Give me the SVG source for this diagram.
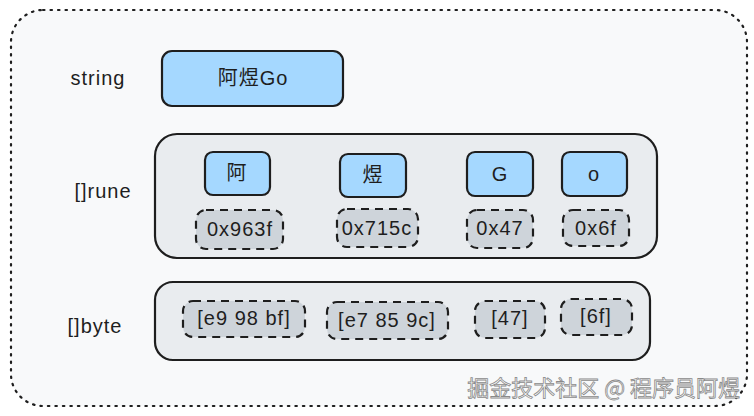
<svg xmlns="http://www.w3.org/2000/svg" width="754" height="416" viewBox="0 0 754 416">
<style>
.lbl{font-family:"Liberation Sans","Noto Sans CJK SC",sans-serif;font-size:20px;letter-spacing:1px;fill:#1e1e1e;text-anchor:middle;dominant-baseline:central}
.blue{fill:#a5d8ff;stroke:#1e1e1e;stroke-width:2.2}
.cont{fill:#e9ecef;stroke:#1e1e1e;stroke-width:2.2}
.dash{fill:#ced4da;stroke:#1e1e1e;stroke-width:2.2;stroke-dasharray:8 6}
.wm{font-family:"Noto Sans CJK SC",sans-serif;font-size:22px;fill:#ffffff;stroke:#8a8a8a;stroke-width:0.8;text-anchor:end;dominant-baseline:central}
</style>
<rect width="754" height="416" fill="#ffffff"/>
<g id="frame">
<rect x="11" y="10" width="736" height="396" rx="32" fill="#f8f9fa" stroke="#1e1e1e" stroke-width="2.2" stroke-dasharray="1.5 6" stroke-linecap="round"/>
</g>
<g id="string-label"><text class="lbl" x="98" y="78">string</text></g>
<g id="string-box"><rect class="blue" x="162" y="51" width="181" height="55" rx="10"/><text class="lbl" x="253" y="78">阿煜Go</text></g>
<g id="rune-label"><text class="lbl" x="103" y="191">[]rune</text></g>
<g id="rune-container"><rect class="cont" x="155" y="134" width="502" height="124" rx="22"/></g>
<g id="rune-a"><rect class="blue" x="205" y="152" width="65" height="43" rx="8"/><text class="lbl" x="237" y="173">阿</text></g>
<g id="rune-yu"><rect class="blue" x="340" y="154" width="66" height="43" rx="8"/><text class="lbl" x="373" y="175">煜</text></g>
<g id="rune-G"><rect class="blue" x="467" y="152" width="66" height="44" rx="8"/><text class="lbl" x="500" y="174">G</text></g>
<g id="rune-o"><rect class="blue" x="562" y="152" width="65" height="44" rx="8"/><text class="lbl" x="594" y="174">o</text></g>
<g id="hex-963f"><rect class="dash" x="196" y="210" width="87" height="39" rx="10"/><text class="lbl" x="240" y="229">0x963f</text></g>
<g id="hex-715c"><rect class="dash" x="337" y="209" width="81" height="38" rx="10"/><text class="lbl" x="377" y="228">0x715c</text></g>
<g id="hex-47"><rect class="dash" x="467" y="210" width="66" height="38" rx="10"/><text class="lbl" x="500" y="228">0x47</text></g>
<g id="hex-6f"><rect class="dash" x="563" y="210" width="66" height="36" rx="10"/><text class="lbl" x="596" y="228">0x6f</text></g>
<g id="byte-label"><text class="lbl" x="95" y="326">[]byte</text></g>
<g id="byte-container"><rect class="cont" x="155" y="282" width="495" height="78" rx="18"/></g>
<g id="byte-e9"><rect class="dash" x="183" y="301" width="122" height="36" rx="10"/><text class="lbl" x="244" y="318">[e9 98 bf]</text></g>
<g id="byte-e7"><rect class="dash" x="327" y="302" width="121" height="37" rx="10"/><text class="lbl" x="387" y="320">[e7 85 9c]</text></g>
<g id="byte-47"><rect class="dash" x="475" y="301" width="70" height="37" rx="10"/><text class="lbl" x="510" y="318">[47]</text></g>
<g id="byte-6f"><rect class="dash" x="561" y="299" width="71" height="36" rx="10"/><text class="lbl" x="596" y="316">[6f]</text></g>
<g id="connectors"></g>
<g id="watermark"><text class="wm" x="740" y="386">掘金技术社区 @ 程序员阿煜</text></g>
</svg>
